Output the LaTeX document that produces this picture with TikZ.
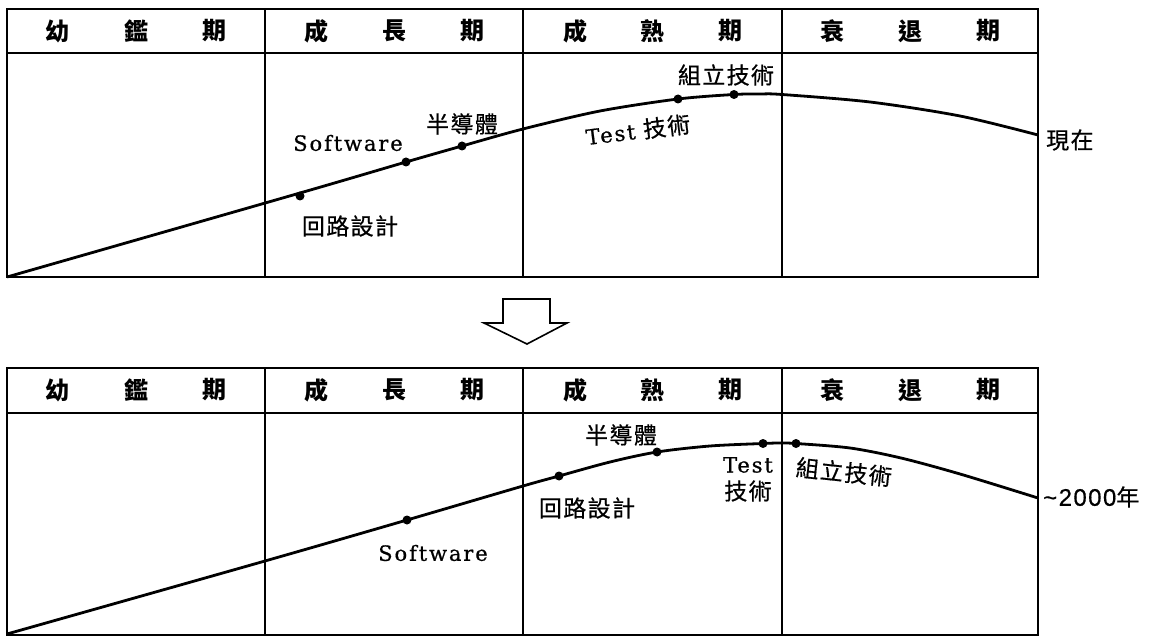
\documentclass[tikz,border=0pt]{standalone}
\usepackage{fontspec}
\newfontfamily\cjk[LetterSpace=6,FakeBold=0.6]{Noto Sans CJK TC}
\newfontfamily\cjkh{Noto Sans CJK TC}
\newfontfamily\lat[LetterSpace=9,FakeBold=0.8]{DejaVu Serif}
\newfontfamily\sfa[LetterSpace=6,FakeBold=0.5]{Liberation Sans}
\begin{document}
\begin{tikzpicture}[x=1pt,y=-1pt,
  frame/.style={line width=1.8pt},
  grid/.style={line width=1.1pt},
  curve/.style={line width=2.8pt, line join=round},
  dot/.style={circle, fill=black, inner sep=0pt, minimum size=9pt},
  hdr/.style={font=\cjkh\bfseries\fontsize{24}{24}\selectfont, inner sep=0pt},
  lab/.style={font=\cjk\fontsize{23}{27}\selectfont, inner sep=0pt},
  latl/.style={font=\lat\fontsize{21}{25}\selectfont, inner sep=0pt},
  arrowshape/.style={line width=1.6pt, line join=miter}]
\useasboundingbox (0,0) rectangle (1154,636);

% ---------- top table ----------
\draw[grid] (7,53) -- (1038,53);
\foreach \x in {265,523,782} \draw[grid] (\x,9) -- (\x,277);
\draw[frame] (7,9) rectangle (1038,277);
\foreach \x/\t in {57/幼,136/鑑,214/期,316/成,394/長,472/期,575/成,652/熟,730/期,832/衰,910/退,988/期}
  \node[hdr] at (\x,31) {\t};

\draw[curve] plot[smooth, tension=0.5] coordinates {(7,277) (300,193) (406,162) (462,146) (523,129) (600,111) (678,99) (734,94.5) (760,94) (782,94.5) (870,102) (960,116) (1038,135)};
\node[dot] (t1) at (300,196) {};
\node[dot] (t2) at (406,162) {};
\node[dot] (t3) at (462,146) {};
\node[dot] (t4) at (678,99) {};
\node[dot] (t5) at (734,94.5) {};
\node[lab] (l1) at (350,226) {回路設計};
\node[latl] (l2) at (348,143) {Software};
\node[lab] (l3) at (462,124) {半導體};
\node[inner sep=0pt, rotate=7] (l4) at (638,130) {{\lat\fontsize{21}{25}\selectfont Test}\hspace{8pt}{\cjk\fontsize{23}{27}\selectfont 技術}};
\node[lab] (l5) at (726,75) {組立技術};
\node[lab, anchor=west] (now) at (1046,140) {現在};

% ---------- arrow ----------
\draw[arrowshape] (503,299) -- (550,299) -- (550,323) -- (567,323) -- (527,344) -- (484,323) -- (503,323) -- cycle;

% ---------- bottom table ----------
\draw[grid] (7,413) -- (1038,413);
\foreach \x in {265,523,782} \draw[grid] (\x,368) -- (\x,635);
\draw[frame] (7,368) rectangle (1038,635);
\foreach \x/\t in {57/幼,136/鑑,214/期,316/成,394/長,472/期,575/成,652/熟,730/期,832/衰,910/退,988/期}
  \node[hdr] at (\x,390) {\t};

\draw[curve] plot[smooth, tension=0.5] coordinates {(7,634) (265,561) (407,520) (523,486) (559,476) (610,462) (657,452) (710,446) (763,443.5) (780,443) (796,443.5) (850,448) (901,458) (960,474) (1038,498)};
\node[dot] (b1) at (407,520) {};
\node[dot] (b2) at (559,476) {};
\node[dot] (b3) at (657,452) {};
\node[dot] (b4) at (763,443.5) {};
\node[dot] (b5) at (796,443.5) {};
\node[latl] (m1) at (433,553) {Software};
\node[lab] (m2) at (587,508) {回路設計};
\node[lab] (m3) at (621,435) {半導體};
\node[latl] (m4) at (748,465) {Test};
\node[lab] (m5) at (748,491) {技術};
\node[lab, rotate=-6] (m6) at (844,472) {組立技術};
\node[inner sep=0pt, anchor=west] (yr) at (1043,497) {{\sfa\fontsize{24}{28}\selectfont \textasciitilde 2000}{\cjk\fontsize{23}{27}\selectfont 年}};
\end{tikzpicture}
\end{document}
